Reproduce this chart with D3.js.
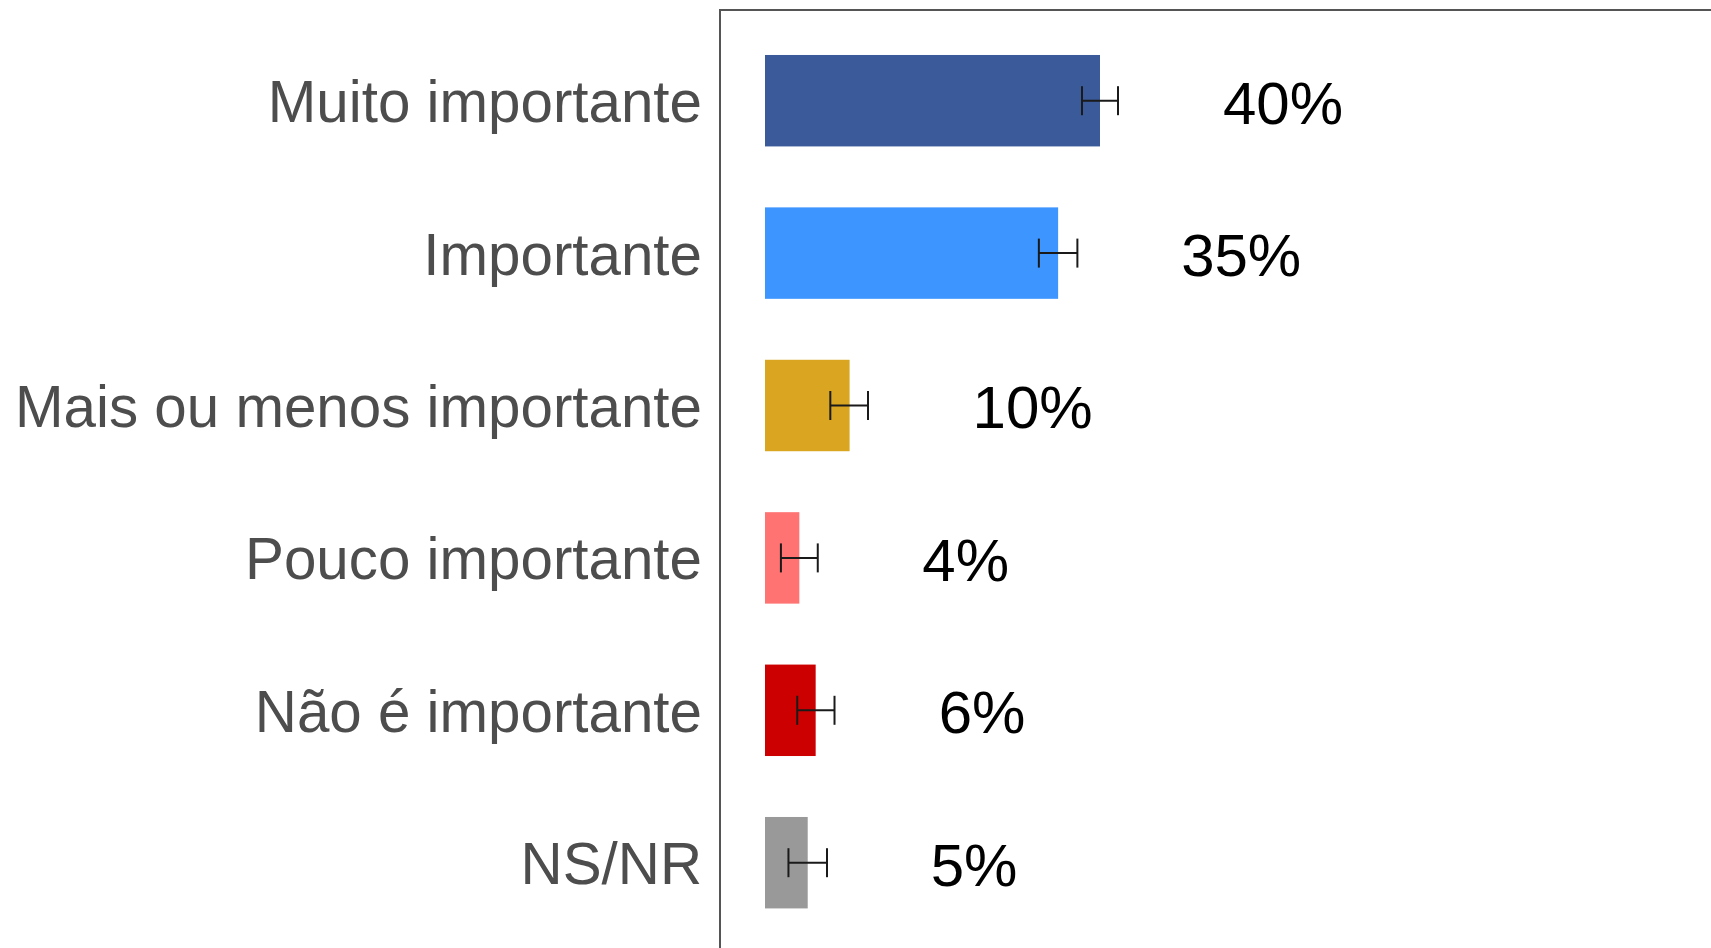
<!DOCTYPE html>
<html>
<head>
<meta charset="utf-8">
<script src="https://cdn.jsdelivr.net/npm/d3@7"></script>
<style>
	html, body { margin: 0; padding: 0; background: #ffffff; overflow: hidden; }
	svg { display: block; font-family: "Liberation Sans", Arial, sans-serif; }
</style>
</head>
<body>
<svg id="chart" width="1711" height="948"></svg>
<script>
'use strict'

var categories = ['Muito importante', 'Importante', 'Mais ou menos importante', 'Pouco importante', 'Não é importante', 'NS/NR'];
var values = [40, 35, 10.1, 4.1, 6.05, 5.1];
var errLow = [37.85, 32.7, 7.8, 1.9, 3.85, 2.8];
var errHigh = [42.15, 37.3, 12.3, 6.3, 8.3, 7.4];
var valueLabels = ['40%', '35%', '10%', '4%', '6%', '5%'];
var colors = ['#3b5a99', '#3d96ff', '#daa520', '#ff7373', '#cc0000', '#999999'];

var data = categories.map(function(c, i){
	return { cat: c, value: values[i], lo: errLow[i], hi: errHigh[i], label: valueLabels[i], color: colors[i] };
});

var svg = d3.select('#chart');

var panel = { left: 720, top: 10 };

var xScale = d3.scaleLinear()
	.domain([0, 100])
	.range([765, 765 + 837.5]);

var yScale = d3.scaleBand()
	.domain(categories)
	.range([24.5, 938.9])
	.paddingInner(0.4)
	.paddingOuter(0.2);

// panel border (right and bottom run off the picture)
svg.append('rect')
	.attr('x', panel.left)
	.attr('y', panel.top)
	.attr('width', 1200)
	.attr('height', 1200)
	.attr('fill', 'none')
	.attr('stroke', '#555555')
	.attr('stroke-width', 2);

svg.append('g')
	.selectAll('rect')
	.data(data)
	.enter()
	.append('rect')
	.attr('x', xScale(0))
	.attr('y', function(d){ return yScale(d.cat); })
	.attr('width', function(d){ return xScale(d.value) - xScale(0); })
	.attr('height', yScale.bandwidth())
	.attr('fill', function(d){ return d.color; });

var capH = 29;
var err = svg.append('g')
	.attr('stroke', '#1a1a1a')
	.attr('stroke-width', 2)
	.selectAll('g')
	.data(data)
	.enter()
	.append('g');

err.append('line')
	.attr('x1', function(d){ return xScale(d.lo); })
	.attr('x2', function(d){ return xScale(d.hi); })
	.attr('y1', function(d){ return yScale(d.cat) + yScale.bandwidth() / 2; })
	.attr('y2', function(d){ return yScale(d.cat) + yScale.bandwidth() / 2; });

err.append('line')
	.attr('x1', function(d){ return xScale(d.lo); })
	.attr('x2', function(d){ return xScale(d.lo); })
	.attr('y1', function(d){ return yScale(d.cat) + yScale.bandwidth() / 2 - capH / 2; })
	.attr('y2', function(d){ return yScale(d.cat) + yScale.bandwidth() / 2 + capH / 2; });

err.append('line')
	.attr('x1', function(d){ return xScale(d.hi); })
	.attr('x2', function(d){ return xScale(d.hi); })
	.attr('y1', function(d){ return yScale(d.cat) + yScale.bandwidth() / 2 - capH / 2; })
	.attr('y2', function(d){ return yScale(d.cat) + yScale.bandwidth() / 2 + capH / 2; });

// value labels
svg.append('g')
	.selectAll('text')
	.data(data)
	.enter()
	.append('text')
	.attr('x', function(d){ return xScale(d.value) + 123; })
	.attr('y', function(d){ return yScale(d.cat) + yScale.bandwidth() / 2; })
	.attr('dy', '0.38em')
	.attr('font-size', 60)
	.attr('fill', '#000000')
	.text(function(d){ return d.label; });

// category axis
var axis = svg.append('g')
	.attr('transform', `translate(${panel.left}, 0)`)
	.call(d3.axisLeft(yScale).tickSize(0).tickPadding(18));

axis.select('.domain').remove();
axis.selectAll('text')
	.attr('font-family', '"Liberation Sans", Arial, sans-serif')
	.attr('font-size', 58.3)
	.attr('fill', '#4d4d4d')
	.attr('dy', '0.37em');
</script>
</body>
</html>
